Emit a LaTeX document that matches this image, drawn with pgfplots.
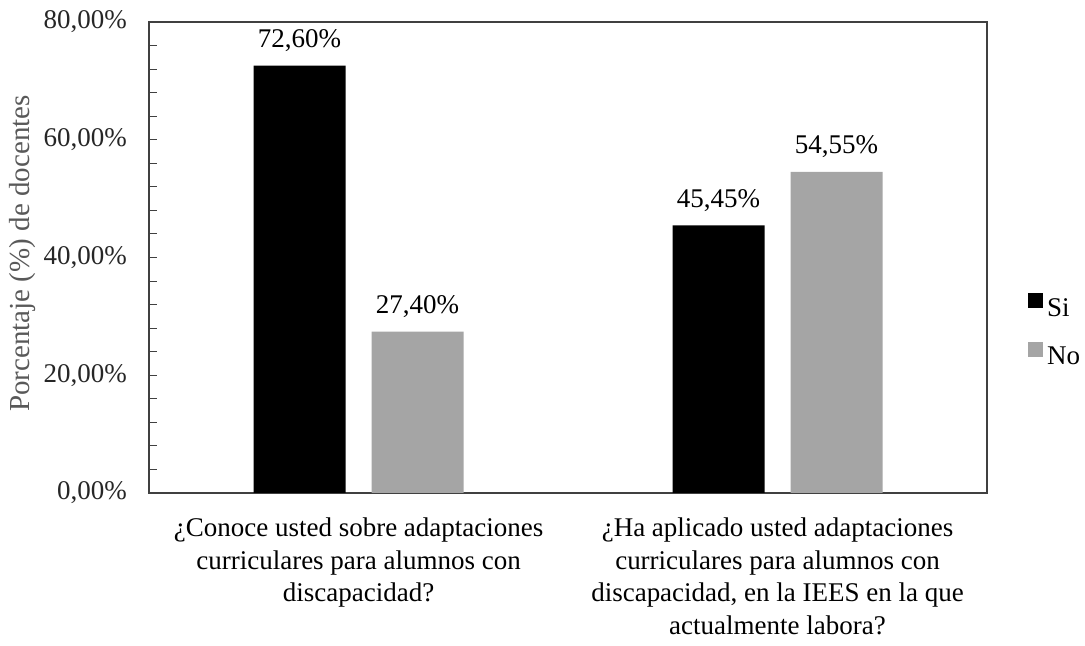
\documentclass[border=0pt]{standalone}
\usepackage{fontspec}
\setmainfont{Liberation Serif}
\usepackage{pgfplots}
\pgfplotsset{compat=1.18}

\definecolor{barno}{RGB}{165,165,165}
\definecolor{axisgray}{RGB}{64,64,64}
\definecolor{labelgray}{RGB}{89,89,89}

\begin{document}
\fontsize{27}{32.5}\selectfont
\begin{tikzpicture}
  \begin{axis}[
    scale only axis,
    width=838pt, height=471pt,
    ybar=26pt, bar width=92pt,
    xmin=-0.5, xmax=1.5,
    ymin=0, ymax=80,
    xtick=data,
    xticklabels={{¿Conoce usted sobre adaptaciones\\curriculares para alumnos con\\discapacidad?},
                 {¿Ha aplicado usted adaptaciones\\curriculares para alumnos con\\discapacidad, en la IEES en la que\\actualmente labora?}},
    xticklabel style={align=center, anchor=north, inner sep=0pt, yshift=-25pt,
                      font=\fontsize{27}{32.5}\selectfont},
    major x tick style={draw=none},
    ytick pos=left,
    ytick={0,20,40,60,80},
    minor y tick num=4,
    tick align=inside,
    major tick length=8pt, minor tick length=8pt,
    every tick/.style={axisgray, line width=1pt},
    /pgf/number format/assume math mode=true,
    yticklabel={\pgfmathprintnumber[fixed,fixed zerofill,precision=2,use comma]{\tick}\%},
    yticklabel style={anchor=east, inner sep=0pt, xshift=-22pt, color=black!85},
    axis line style={axisgray, line width=1.5pt},
    ylabel={Porcentaje (\%) de docentes},
    ylabel style={at={(rel axis cs:0,0.5)}, anchor=center, yshift=127pt, xshift=4pt,
                  font=\fontsize{29}{34}\selectfont, color=labelgray},
    nodes near coords={\pgfmathprintnumber[fixed,fixed zerofill,precision=2,use comma]{\pgfplotspointmeta}\%},
    every node near coord/.append style={anchor=base, inner sep=0pt, yshift=18pt, color=black},
    legend style={at={(1,0.4246)}, anchor=north west, xshift=41pt, draw=none, fill=none,
                  inner sep=0pt, row sep=22pt, column sep=4pt, nodes={inner sep=0pt}},
    legend cell align=left,
    legend image code/.code={\fill[#1] (0pt,1pt) rectangle (15pt,16pt);},
    clip=false,
  ]
  \addplot[fill=black, draw=none] coordinates {(0,72.60) (1,45.45)};
  \addplot[fill=barno, draw=none] coordinates {(0,27.40) (1,54.55)};
  \legend{Si, No}
  \end{axis}
  \path (current axis.south west) ++(-149pt,-153pt) rectangle ++(1085pt,646pt);
\end{tikzpicture}
\end{document}
